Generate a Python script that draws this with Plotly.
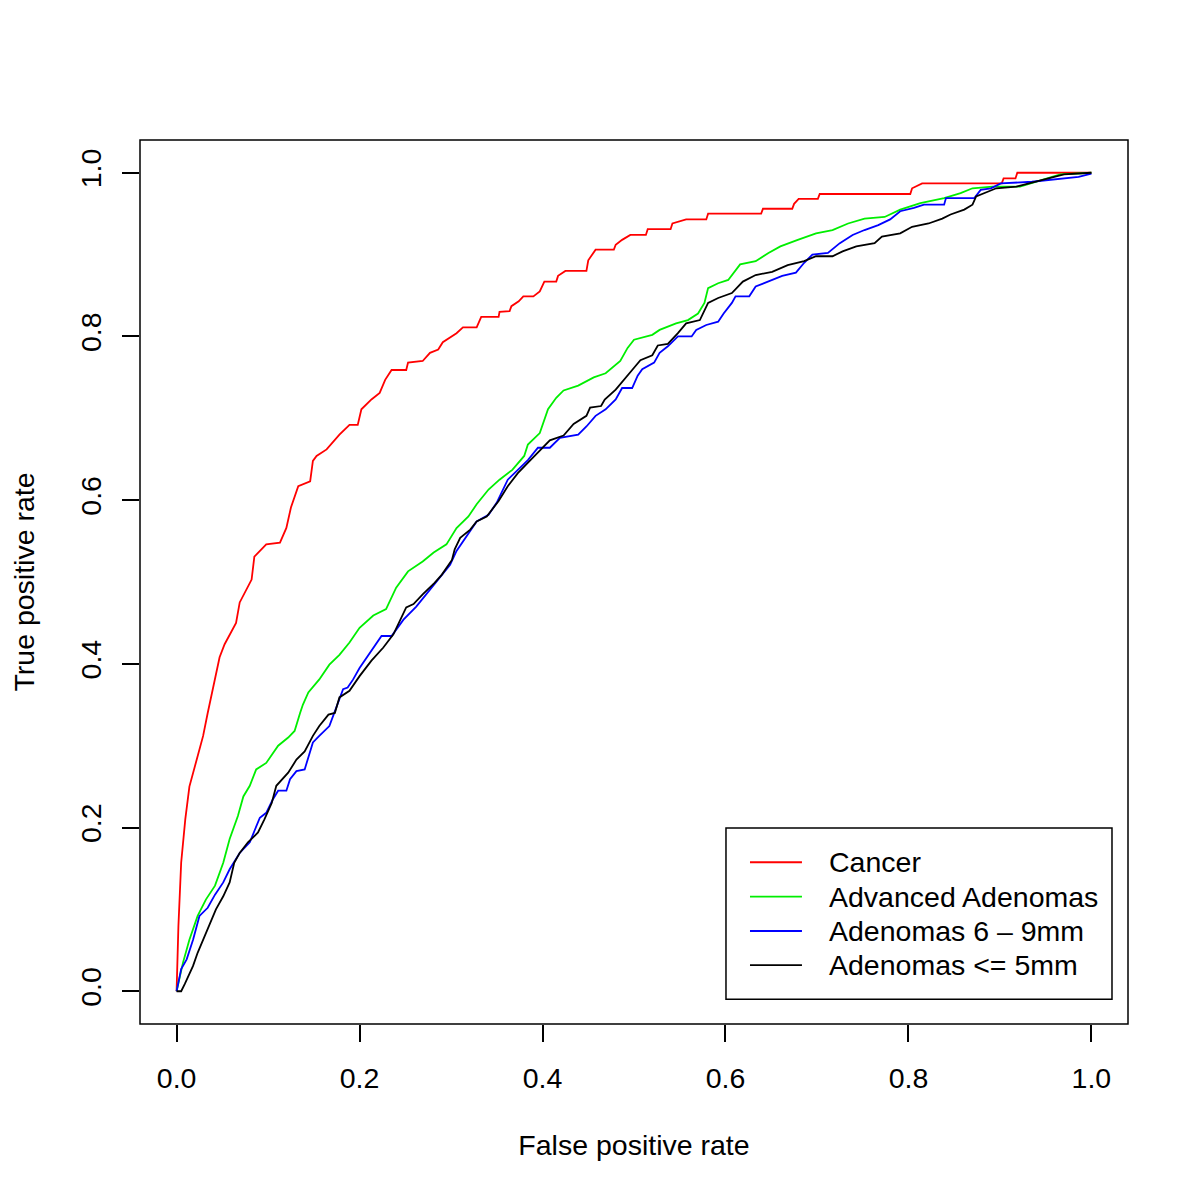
import plotly.graph_objects as go

# ---- data ----
cancer_fpr = [0.0, 0.002, 0.005, 0.0095, 0.014, 0.02, 0.025, 0.029, 0.034, 0.04, 0.047, 0.0525, 0.058, 0.065, 0.069, 0.076, 0.082,
              0.085, 0.098, 0.113, 0.12, 0.125, 0.133, 0.146, 0.149, 0.153, 0.164, 0.178, 0.189, 0.198, 0.202, 0.213, 0.222, 0.228,
              0.235, 0.251, 0.253, 0.269, 0.277, 0.286, 0.291, 0.306, 0.313, 0.328, 0.333, 0.352, 0.353, 0.364, 0.366, 0.374, 0.379,
              0.39, 0.397, 0.402, 0.415, 0.417, 0.425, 0.448, 0.45, 0.458, 0.478, 0.48, 0.487, 0.496, 0.513, 0.515, 0.540, 0.542,
              0.557, 0.579, 0.581, 0.639, 0.641, 0.673, 0.675, 0.68, 0.701, 0.703, 0.802, 0.804, 0.815, 0.902, 0.904, 0.917, 0.919, 1.0]
cancer_tpr = [0.0, 0.08, 0.157, 0.21, 0.25, 0.275, 0.295, 0.312, 0.34, 0.371, 0.408, 0.424, 0.436, 0.45, 0.475, 0.49, 0.503,
              0.531, 0.546, 0.548, 0.566, 0.591, 0.617, 0.623, 0.648, 0.654, 0.662, 0.68, 0.692, 0.692, 0.711, 0.723, 0.731, 0.747,
              0.759, 0.759, 0.768, 0.77, 0.78, 0.784, 0.793, 0.804, 0.811, 0.811, 0.824, 0.824, 0.83, 0.831, 0.837, 0.843, 0.849,
              0.849, 0.855, 0.867, 0.867, 0.874, 0.880, 0.880, 0.893, 0.906, 0.906, 0.912, 0.918, 0.924, 0.924, 0.931, 0.931, 0.938,
              0.943, 0.943, 0.950, 0.950, 0.956, 0.956, 0.962, 0.968, 0.968, 0.974, 0.974, 0.981, 0.987, 0.987, 0.993, 0.993, 1.0, 1.0]

adv_fpr = [0.0, 0.007, 0.014, 0.023, 0.032, 0.042, 0.051, 0.058, 0.067, 0.073, 0.08, 0.087, 0.098, 0.111, 0.122, 0.129, 0.135,
           0.138, 0.144, 0.156, 0.167, 0.178, 0.189, 0.2, 0.215, 0.229, 0.24, 0.253, 0.269, 0.281, 0.295, 0.306, 0.319, 0.328,
           0.341, 0.353, 0.367, 0.38, 0.384, 0.397, 0.406, 0.415, 0.423, 0.439, 0.456, 0.469, 0.485, 0.493, 0.5, 0.52, 0.528,
           0.546, 0.559, 0.57, 0.577, 0.581, 0.592, 0.603, 0.616, 0.633, 0.647, 0.66, 0.679, 0.699, 0.717, 0.734, 0.752, 0.774,
           0.791, 0.813, 0.839, 0.857, 0.87, 0.892, 0.922, 0.94, 0.966, 1.0]
adv_tpr = [0.0, 0.035, 0.063, 0.092, 0.112, 0.129, 0.157, 0.186, 0.214, 0.238, 0.251, 0.271, 0.279, 0.3, 0.31, 0.318, 0.34,
           0.35, 0.365, 0.381, 0.399, 0.411, 0.426, 0.444, 0.459, 0.467, 0.493, 0.513, 0.525, 0.536, 0.546, 0.566, 0.58, 0.595,
           0.613, 0.625, 0.637, 0.654, 0.668, 0.682, 0.711, 0.725, 0.734, 0.74, 0.75, 0.755, 0.77, 0.786, 0.796, 0.802, 0.808,
           0.816, 0.82, 0.828, 0.841, 0.859, 0.865, 0.869, 0.888, 0.892, 0.902, 0.91, 0.918, 0.926, 0.93, 0.938, 0.944, 0.946,
           0.955, 0.963, 0.969, 0.975, 0.981, 0.983, 0.983, 0.989, 0.998, 1.0]

mid_fpr = [0.0, 0.005, 0.011, 0.018, 0.025, 0.034, 0.042, 0.051, 0.058, 0.069, 0.08, 0.087, 0.091, 0.098, 0.105, 0.111, 0.12,
           0.124, 0.131, 0.14, 0.149, 0.156, 0.167, 0.175, 0.182, 0.187, 0.193, 0.2, 0.215, 0.224, 0.235, 0.248, 0.262, 0.277,
           0.288, 0.299, 0.306, 0.319, 0.328, 0.341, 0.35, 0.362, 0.373, 0.384, 0.395, 0.408, 0.419, 0.439, 0.448, 0.458, 0.469,
           0.48, 0.487, 0.498, 0.504, 0.509, 0.522, 0.528, 0.537, 0.548, 0.563, 0.568, 0.579, 0.592, 0.598, 0.607, 0.611, 0.626,
           0.633, 0.647, 0.662, 0.677, 0.686, 0.695, 0.712, 0.725, 0.739, 0.752, 0.767, 0.78, 0.791, 0.806, 0.817, 0.839, 0.841,
           0.872, 0.879, 0.89, 0.901, 0.935, 0.968, 0.986, 1.0]
mid_tpr = [0.0, 0.027, 0.039, 0.063, 0.092, 0.102, 0.118, 0.133, 0.149, 0.169, 0.182, 0.2, 0.212, 0.218, 0.234, 0.245, 0.245,
           0.259, 0.269, 0.271, 0.304, 0.312, 0.324, 0.348, 0.369, 0.371, 0.381, 0.395, 0.42, 0.434, 0.434, 0.454, 0.47, 0.491,
           0.507, 0.521, 0.538, 0.56, 0.574, 0.582, 0.597, 0.625, 0.637, 0.649, 0.664, 0.664, 0.676, 0.68, 0.69, 0.703, 0.711,
           0.723, 0.737, 0.737, 0.752, 0.76, 0.768, 0.78, 0.788, 0.8, 0.8, 0.808, 0.814, 0.818, 0.828, 0.841, 0.849, 0.849,
           0.861, 0.867, 0.874, 0.878, 0.89, 0.9, 0.902, 0.914, 0.924, 0.93, 0.936, 0.943, 0.953, 0.957, 0.961, 0.961, 0.969,
           0.969, 0.979, 0.981, 0.987, 0.989, 0.993, 0.995, 0.999]

small_fpr = [0.0, 0.005, 0.009, 0.012, 0.018, 0.023, 0.029, 0.036, 0.043, 0.051, 0.058, 0.063, 0.069, 0.078, 0.089, 0.096, 0.104,
             0.109, 0.114, 0.122, 0.131, 0.14, 0.149, 0.156, 0.166, 0.173, 0.178, 0.189, 0.2, 0.213, 0.226, 0.237, 0.251, 0.259,
             0.269, 0.282, 0.29, 0.301, 0.304, 0.31, 0.321, 0.328, 0.339, 0.352, 0.362, 0.373, 0.386, 0.397, 0.408, 0.423, 0.434,
             0.448, 0.452, 0.464, 0.468, 0.48, 0.49, 0.498, 0.507, 0.52, 0.526, 0.537, 0.548, 0.557, 0.572, 0.581, 0.592, 0.607,
             0.619, 0.633, 0.651, 0.668, 0.686, 0.699, 0.717, 0.728, 0.743, 0.763, 0.771, 0.791, 0.804, 0.822, 0.837, 0.846,
             0.861, 0.87, 0.874, 0.883, 0.896, 0.918, 0.94, 0.953, 0.97, 1.0]
small_tpr = [0.0, 0.0, 0.009, 0.017, 0.031, 0.047, 0.063, 0.08, 0.1, 0.116, 0.133, 0.157, 0.169, 0.182, 0.194, 0.21, 0.23,
             0.251, 0.257, 0.267, 0.283, 0.293, 0.312, 0.324, 0.338, 0.34, 0.359, 0.367, 0.385, 0.404, 0.42, 0.436, 0.469, 0.473,
             0.485, 0.499, 0.509, 0.527, 0.54, 0.554, 0.564, 0.574, 0.58, 0.599, 0.617, 0.633, 0.648, 0.661, 0.673, 0.679, 0.693,
             0.703, 0.713, 0.715, 0.723, 0.735, 0.749, 0.759, 0.771, 0.777, 0.789, 0.791, 0.804, 0.816, 0.82, 0.841, 0.847, 0.853,
             0.867, 0.875, 0.879, 0.887, 0.892, 0.898, 0.898, 0.904, 0.91, 0.914, 0.922, 0.926, 0.934, 0.938, 0.944, 0.949,
             0.955, 0.961, 0.971, 0.975, 0.981, 0.983, 0.989, 0.993, 0.998, 1.0]

series_names = ["Cancer", "Advanced Adenomas", "Adenomas 6 \u2013 9mm", "Adenomas <= 5mm"]
series_colors = ["#FF0000", "#00EE00", "#0000FF", "#000000"]
tick_vals = [0.0, 0.2, 0.4, 0.6, 0.8, 1.0]
tick_text = ["0.0", "0.2", "0.4", "0.6", "0.8", "1.0"]

FONT = "Liberation Sans, Arial, Helvetica, sans-serif"
FS = 28.5

fig = go.Figure()
for xs, ys, name, col in zip([cancer_fpr, adv_fpr, mid_fpr, small_fpr],
                             [cancer_tpr, adv_tpr, mid_tpr, small_tpr],
                             series_names, series_colors):
    fig.add_trace(go.Scatter(x=xs, y=ys, mode="lines", name=name, showlegend=False,
                             line=dict(color=col, width=1.8)))

axis_common = dict(range=[-0.04, 1.04], tickvals=tick_vals, ticktext=tick_text,
                   showgrid=False, zeroline=False, showline=False,
                   ticks="outside", ticklen=17, tickwidth=1.5, tickcolor="black",
                   tickfont=dict(family=FONT, size=FS, color="black"))

# legend drawn in paper coordinates (box, line samples, labels)
leg_x0, leg_x1, leg_y0, leg_y1 = 0.5931, 0.9838, 0.0280, 0.2217
leg_line_x = (0.6174, 0.6700)
leg_text_x = 0.6954
leg_rows = [0.1830, 0.1441, 0.1052, 0.0667]

shapes = [dict(type="rect", xref="paper", yref="paper", x0=0, x1=1, y0=0, y1=1,
               line=dict(color="black", width=1.5)),
          dict(type="rect", xref="paper", yref="paper", x0=leg_x0, x1=leg_x1, y0=leg_y0, y1=leg_y1,
               line=dict(color="black", width=1.5), fillcolor="white", layer="above")]
annotations = []
for name, col, ry in zip(series_names, series_colors, leg_rows):
    shapes.append(dict(type="line", xref="paper", yref="paper", x0=leg_line_x[0], x1=leg_line_x[1],
                       y0=ry, y1=ry, line=dict(color=col, width=1.8), layer="above"))
    annotations.append(dict(xref="paper", yref="paper", x=leg_text_x, y=ry, text=name, showarrow=False,
                            xanchor="left", yanchor="middle",
                            font=dict(family=FONT, size=FS, color="black")))

fig.update_layout(
    width=1200, height=1200,
    margin=dict(l=132, r=80, t=132, b=184),
    paper_bgcolor="white", plot_bgcolor="white",
    font=dict(family=FONT, size=FS, color="black"),
    xaxis=dict(**axis_common, ticklabelstandoff=12,
               title=dict(text="False positive rate", font=dict(family=FONT, size=FS), standoff=41)),
    yaxis=dict(**axis_common, tickangle=-90, ticklabelstandoff=10,
               title=dict(text="True positive rate", font=dict(family=FONT, size=FS), standoff=36)),
    shapes=shapes,
    annotations=annotations,
    showlegend=False,
)

fig.write_html("out.html")
